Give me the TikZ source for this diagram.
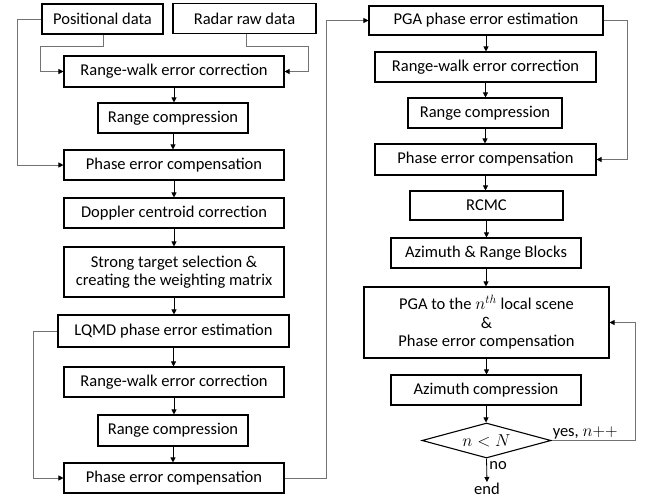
\documentclass[tikz,border=0pt]{standalone}
\usepackage{fontspec}
\setmainfont{Carlito}
\usetikzlibrary{arrows.meta,shapes.geometric}
\begin{document}
\begin{tikzpicture}[x=1pt,y=-1pt,
  font=\fontsize{16.5}{18.5}\selectfont,
  box/.style={draw=black,line width=1.1pt,inner sep=0pt,align=center,minimum height=30pt},
  flow/.style={draw=black,line width=0.8pt,-{Triangle[length=5pt,width=5pt]}},
  loop/.style={draw=black!55,line width=0.9pt,-{Triangle[length=5pt,width=5pt,color=black]}},
]
\useasboundingbox (0,0) rectangle (649,499);

% left column
\node[box,minimum width=121pt] (pos) at (102.5,19) {Positional data};
\node[box,minimum width=143pt] (radar) at (244.5,18.5) {Radar raw data};
\node[box,minimum width=220pt,minimum height=31pt] (rw1) at (174,71.5) {Range-walk error correction};
\node[box,minimum width=150pt] (rc1) at (173,118) {Range compression};
\node[box,minimum width=220pt] (pec1) at (174,165) {Phase error compensation};
\node[box,minimum width=220pt] (dop) at (174,213) {Doppler centroid correction};
\node[box,minimum width=220pt,minimum height=50pt] (strong) at (174,272) {Strong target selection \&\\creating the weighting matrix};
\node[box,minimum width=231pt,minimum height=32pt] (lqmd) at (173.5,331) {LQMD phase error estimation};
\node[box,minimum width=220pt] (rw2) at (174,382) {Range-walk error correction};
\node[box,minimum width=150pt,minimum height=31pt] (rc2) at (173,430.5) {Range compression};
\node[box,minimum width=220pt] (pec2) at (174,478) {Phase error compensation};

% right column
\node[box,minimum width=234pt,minimum height=29pt] (pga) at (486,20.5) {PGA phase error estimation};
\node[box,minimum width=221pt] (rw3) at (485.5,67) {Range-walk error correction};
\node[box,minimum width=154pt] (rc3) at (485,113) {Range compression};
\node[box,minimum width=221pt,minimum height=31pt] (pec3) at (485.5,159.5) {Phase error compensation};
\node[box,minimum width=153pt,minimum height=29pt] (rcmc) at (486.5,205.5) {RCMC};
\node[box,minimum width=190pt] (arb) at (486,253) {Azimuth \& Range Blocks};
\node[box,minimum width=245pt,minimum height=71pt] (pgan) at (486.5,322.5) {PGA to the $n^{th}$ local scene\\\&\\Phase error compensation};
\node[box,minimum width=190pt] (azc) at (486,390) {Azimuth compression};
\node[draw=black,line width=1.1pt,diamond,aspect=3.7,minimum width=129pt,minimum height=35pt,inner sep=0pt] (dec) at (486.5,440.5) {$n<N$};
\node[inner sep=1pt] (fin) at (487,489) {end};

% straight flow
\foreach \a/\b in {rw1/rc1,rc1/pec1,pec1/dop,dop/strong,strong/lqmd,lqmd/rw2,rw2/rc2,rc2/pec2,
                   pga/rw3,rw3/rc3,rc3/pec3,pec3/rcmc,rcmc/arb,arb/pgan,pgan/azc,azc/dec}
  \draw[flow] (\a.south) -- (\a.south |- \b.north);
\draw[flow] (dec.south) -- node[right=-1pt,pos=0.3] {no} (fin.north);

% feed lines
\draw[loop] (pos.west) -| (17,165) -- (pec1.west);
\draw[loop] ([xshift=0.5pt]pos.south) |- (40,46) |- (rw1.west);
\draw[loop] ([xshift=1.5pt]radar.south) |- (308,46) |- (rw1.east);
\draw[loop] (lqmd.west) -| (33,478) -- (pec2.west);
\draw[loop] (pec2.east) -| (326,20.5) -- (pga.west);
\draw[loop] (pga.east) -| (627,159.5) -- (pec3.east);
\draw[loop] (dec.east) -| (635,322.5) -- (pgan.east);
\node[anchor=south west,inner sep=1pt] (yes) at (dec.east) {yes, $n{+}{+}$};
\end{tikzpicture}
\end{document}
